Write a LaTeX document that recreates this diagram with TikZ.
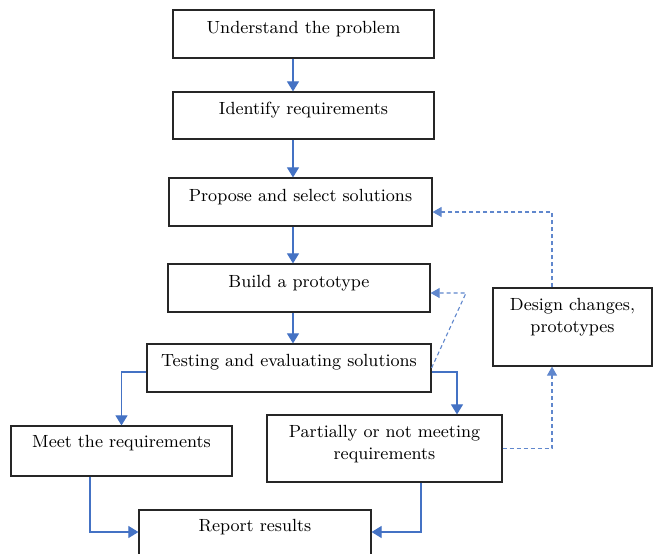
\documentclass[tikz,border=0pt]{standalone}
\usetikzlibrary{arrows.meta}
\definecolor{flowblue}{HTML}{4472C4}
\begin{document}
\begin{tikzpicture}[x=0.5pt,y=-0.5pt,
    box/.style={draw=black!85,line width=0.6pt,rectangle,inner sep=0pt},
    txt/.style={font=\fontsize{8.8}{11}\selectfont,align=center,yshift=2.5pt},
    flow arrow/.style={draw=flowblue,line width=0.55pt,-{Triangle[length=5pt,width=6pt]}},
    dash arrow/.style={draw=flowblue!85,line width=0.55pt,dash pattern=on 2pt off 1.5pt,-{Triangle[length=4.5pt,width=5pt]}} ]
    \useasboundingbox (0,0) rectangle (653,553);
    \clip (0,0) rectangle (653,553);
    % boxes
    \node [box,minimum width=130.5pt,minimum height=24pt,label={[txt]center:Understand the problem}] (und) at (303.5,34) {};
    \node [box,minimum width=130.5pt,minimum height=23.5pt,label={[txt]center:Identify requirements}] (idr) at (303.5,115.5) {};
    \node [box,minimum width=131.5pt,minimum height=24pt,label={[txt]center:Propose and select solutions}] (pro) at (300.5,202) {};
    \node [box,minimum width=131pt,minimum height=24pt,label={[txt]center:Build a prototype}] (bld) at (299,288) {};
    \node [box,minimum width=142pt,minimum height=24pt,label={[txt,yshift=0.5pt]center:Testing and evaluating solutions}] (tst) at (289,368) {};
    \node [box,minimum width=110.5pt,minimum height=25pt,label={[txt,yshift=1.5pt]center:Meet the requirements}] (met) at (121.5,451) {};
    \node [box,minimum width=116pt,minimum height=25pt,label={[txt,yshift=1.5pt]center:Report results}] (rep) at (255,535) {};
    \node [box,minimum width=117.5pt,minimum height=33.5pt,label={[txt,yshift=-0.5pt]center:{Partially or not meeting\\requirements}}] (prt) at (384.5,448.5) {};
    \node [box,minimum width=79.5pt,minimum height=39pt,label={[txt,yshift=2.5pt]center:{Design changes,\\prototypes}}] (dsg) at (572.5,327) {};
    % helper coordinates
    \coordinate (ax) at (293,0);
    \coordinate (px) at (457,0);
    \coordinate (mx) at (90,0);
    \coordinate (qx) at (421,0);
    \coordinate (dx) at (552,0);
    \coordinate (bend) at (466,293);
    % main flow
    \draw [flow arrow] (und.south -| ax) -- (idr.north -| ax);
    \draw [flow arrow] (idr.south -| ax) -- (pro.north -| ax);
    \draw [flow arrow] (pro.south -| ax) -- (bld.north -| ax);
    \draw [flow arrow] (bld.south -| ax) -- (tst.north -| ax);
    \draw [flow arrow] ([yshift=-2pt]tst.west) -| (met.north);
    \draw [flow arrow] ([yshift=-2pt]tst.east) -| (prt.north -| px);
    \draw [flow arrow] (met.south -| mx) |- ([yshift=1.5pt]rep.west);
    \draw [flow arrow] (prt.south -| qx) |- ([yshift=1.5pt]rep.east);
    % feedback loops
    \draw [dash arrow] (prt.east) -| (dsg.south -| dx);
    \draw [dash arrow] (dsg.north -| dx) |- ([yshift=-5pt]pro.east);
    \draw [dash arrow] (tst.east) -- (bend) -- ([yshift=-2.5pt]bld.east);
\end{tikzpicture}
\end{document}
